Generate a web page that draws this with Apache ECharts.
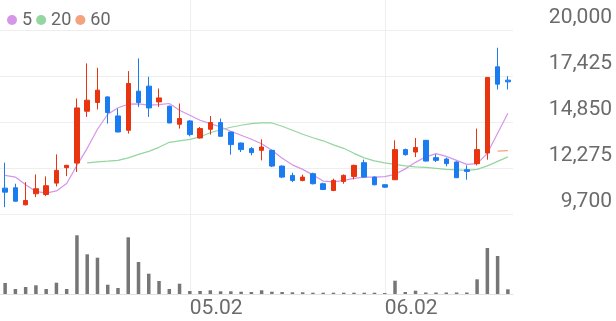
<!DOCTYPE html>
<html><head><meta charset="utf-8">
<script src="https://cdn.jsdelivr.net/npm/echarts@6/dist/echarts.min.js"></script>
<style>html,body{margin:0;padding:0;background:#fff}#c{width:616px;height:321px}</style>
</head><body><div id="c"></div>
<script>
const dates = ['04.07','04.08','04.09','04.10','04.11','04.14','04.15','04.16','04.17','04.18',
  '04.21','04.22','04.23','04.24','04.25','04.28','04.29','04.30','05.02','05.07',
  '05.08','05.09','05.12','05.13','05.14','05.15','05.16','05.19','05.20','05.21',
  '05.22','05.23','05.26','05.27','05.28','05.29','05.30','06.02','06.04','06.05',
  '06.09','06.10','06.11','06.12','06.13','06.16','06.17','06.18','06.19','06.20'];
const opens  = [11172,11194,10243,10858,10819,11452,12314,12571,15466,15953,
  16266,15203,14402,16585,16865,15986,15745,14738,14923,13971,
  14458,14833,14300,13691,13378,13282,13282,12404,11883,11603,
  11978,11418,11043,11547,11827,12594,11788,11362,11642,13322,
  13187,13842,12874,12795,12628,12202,12538,13131,17946,17201];
const closes = [10948,10444,10483,11138,11306,12163,12443,15650,16081,16641,
  15393,14307,17016,15953,15650,16210,14811,15057,14161,14497,
  14833,14066,13602,13322,13154,13467,12404,11788,11603,11788,
  11418,11099,11603,11883,12443,11788,11362,11228,13322,13042,
  13434,12683,12723,12538,11754,12107,13322,17352,16977,17106];
const lows   = [10108,10427,10203,10668,10724,11267,11844,12068,15147,15561,
  14777,14290,14217,15706,15147,15706,14790,14497,14066,13937,
  14161,14050,13042,13187,13003,12723,12347,11732,11508,11547,
  11379,11060,11004,11418,11659,11754,11323,11183,11620,12986,
  12907,12667,12628,12387,11740,11642,12443,12762,16680,16680];
const highs  = [12594,11418,11508,11939,11827,13058,12470,16177,18136,17890,
  16290,15617,17705,18416,17386,16736,15780,15897,14962,14587,
  15203,15057,14330,13713,13467,13898,13322,12443,12034,11922,
  12034,11474,11698,11939,12482,12762,11827,11390,13842,13378,
  13971,13860,13058,12874,12667,12443,14497,17370,19009,17425];
const volumes = [110,50,70,87,50,113,50,587,397,363,
  93,60,567,320,203,130,50,103,30,30,
  37,27,27,23,20,37,23,20,17,17,
  13,13,13,13,13,13,13,10,133,20,
  33,15,15,15,15,15,147,460,380,47];
const ma5 = [11883,11788,11362,10987,10892,11015,11435,12443,13394,14458,
  15298,15662,15857,15874,15802,15830,15897,15522,15242,14962,
  14777,14587,14346,14122,13898,13646,13282,12835,12471,12219,
  11911,11564,11519,11603,11715,11788,11788,11816,11939,12247,
  12611,12919,13098,12947,12723,12499,12538,13115,14234,15354];
const ma20 = [null,null,null,null,null,null,null,null,12583,12639,
  12678,12723,12863,13058,13226,13450,13730,13814,13898,14038,
  14262,14430,14570,14682,14777,14811,14811,14626,14402,14178,
  13982,13814,13590,13394,13115,12863,12695,12583,12499,12415,
  12359,12331,12275,12219,12191,12163,12219,12415,12667,12919];
const ma60 = [null,null,null,null,null,null,null,null,null,null,
  null,null,null,null,null,null,null,null,null,null,
  null,null,null,null,null,null,null,null,null,null,
  null,null,null,null,null,null,null,null,null,null,
  null,null,null,null,null,null,null,null,13243,13270];
const priceTicks = ['9,700','12,275','14,850','17,425','20,000'];
const priceMin = 9700, priceMax = 20000;
const volumeMax = 790;
const monthLabels = ['05.02','06.02'];
const maNames = ['5','20','60'];

const chart = echarts.init(document.getElementById('c'), null, {renderer:'canvas'});
const labelColor = '#6b6b6b';
const gridLine = '#eeeeee';
chart.setOption({
  animation: false,
  textStyle: {fontFamily: 'Roboto'},
  legend: {
    data: maNames, top: 6, left: 2, icon: 'circle', itemWidth: 10, itemHeight: 10, itemGap: 4,
    textStyle: {fontSize: 18, color: '#666', fontFamily: 'Roboto'}
  },
  grid: [
    {left: 0, right: 103, top: 30, height: 184.5},
    {left: 0, right: 103, top: 215, height: 79},
    {left: 0, right: 103, top: 0, height: 294}
  ],
  xAxis: [
    {type: 'category', gridIndex: 0, data: dates, axisLine: {show: false}, axisTick: {show: false}, axisLabel: {show: false}, splitLine: {show: false}},
    {type: 'category', gridIndex: 1, data: dates, axisLine: {show: true, lineStyle: {color: '#e2e2e2', width: 1}}, axisTick: {show: false}, splitLine: {show: false},
      axisLabel: {show: true, interval: (i, v) => monthLabels.includes(v), align: 'left', margin: 4, fontSize: 21, color: labelColor}},
    {type: 'category', gridIndex: 2, data: dates, show: false}
  ],
  yAxis: [
    {type: 'value', gridIndex: 0, min: priceMin, max: priceMax, show: false, splitLine: {show: false}},
    {type: 'category', gridIndex: 0, data: priceTicks, boundaryGap: false, position: 'right',
      axisLine: {show: false}, axisTick: {show: false},
      splitLine: {show: true, interval: 0, lineStyle: {color: gridLine, width: 1}},
      axisLabel: {interval: 0, align: 'right', verticalAlign: 'bottom', margin: 99, fontSize: 21, color: labelColor, padding: [0, 0, 2, 0]}},
    {type: 'value', gridIndex: 1, min: 0, max: volumeMax, show: false, splitLine: {show: false}},
    {type: 'value', gridIndex: 2, min: 0, max: 1, show: false, splitLine: {show: false}}
  ],
  series: [
    {type: 'line', name: 'grid', xAxisIndex: 2, yAxisIndex: 3, data: dates.map(() => null), z: 0,
      markLine: {silent: true, z: 0, symbol: ['none', 'none'], label: {show: false}, animation: false,
        lineStyle: {color: gridLine, type: 'solid', width: 1},
        data: monthLabels.map(m => ({xAxis: m}))}},
    {type: 'line', name: '5', xAxisIndex: 0, yAxisIndex: 0, data: ma5, symbol: 'none', z: 1,
      itemStyle: {color: '#d596ea'}, lineStyle: {color: '#d596ea', width: 1.2}},
    {type: 'line', name: '20', xAxisIndex: 0, yAxisIndex: 0, data: ma20, symbol: 'none', z: 1,
      itemStyle: {color: '#93d6a0'}, lineStyle: {color: '#93d6a0', width: 1.2}},
    {type: 'line', name: '60', xAxisIndex: 0, yAxisIndex: 0, data: ma60, symbol: 'none', z: 1,
      itemStyle: {color: '#f5a27f'}, lineStyle: {color: '#f5a27f', width: 1.2}},
    {type: 'candlestick', name: 'price', xAxisIndex: 0, yAxisIndex: 0, z: 3, barWidth: 5,
      data: dates.map((d, i) => [opens[i], closes[i], lows[i], highs[i]]),
      itemStyle: {color: '#e8340f', color0: '#1b7cf0', borderColor: '#e8340f', borderColor0: '#1b7cf0', borderWidth: 1}},
    {type: 'bar', name: 'volume', xAxisIndex: 1, yAxisIndex: 2, data: volumes, barWidth: 3.5,
      itemStyle: {color: '#767676'}}
  ]
});
</script></body></html>
